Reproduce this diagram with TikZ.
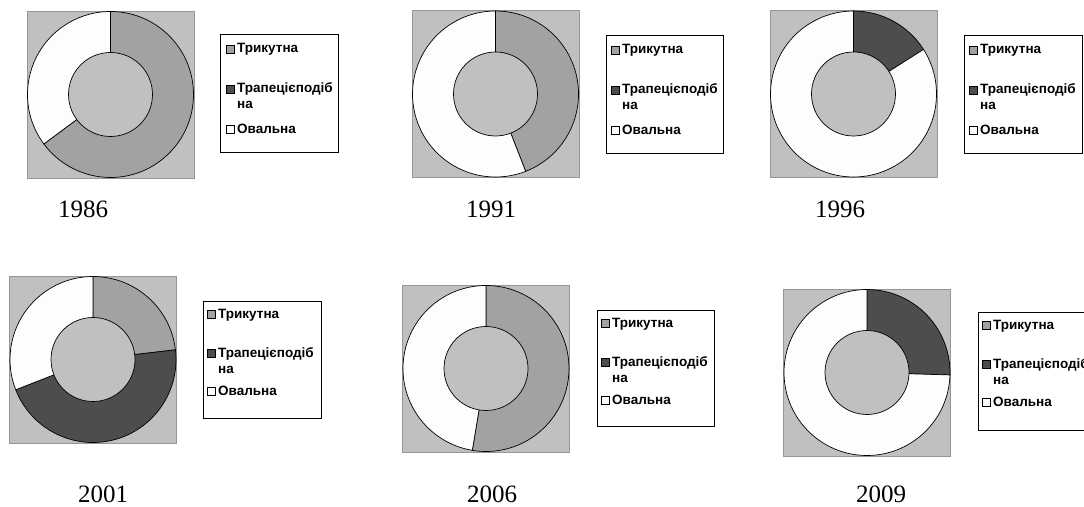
\documentclass[tikz,border=0pt]{standalone}
\usepackage{fontspec}
\setmainfont{Liberation Serif}
\newfontfamily\legfont{Liberation Sans}
\usepackage{tikz}
\usetikzlibrary{positioning}
\definecolor{chartgray}{RGB}{192,192,192}
\definecolor{framegray}{RGB}{150,150,150}
\definecolor{trigray}{RGB}{162,162,162}
\definecolor{trapgray}{RGB}{77,77,77}
\definecolor{ovalwhite}{RGB}{253,253,253}
\newcommand{\legsq}[1]{{\setlength{\fboxsep}{0pt}\setlength{\fboxrule}{0.6pt}%
  \raisebox{0.4pt}{\fcolorbox{black}{#1}{\rule{0pt}{7.4pt}\rule{7.4pt}{0pt}}}}\hspace{2.4pt}}
\tikzset{
  bgsq/.style={rectangle,draw=framegray,line width=0.8pt,fill=chartgray,minimum size=167pt,inner sep=0pt},
  seg/.style={draw=black,line width=0.7pt},
  hole/.style={circle,draw=black,line width=0.7pt,fill=chartgray,minimum size=84pt,inner sep=0pt},
  legbox/.style={rectangle,draw=black,line width=0.8pt,fill=white,anchor=north west,
    minimum width=118pt,minimum height=118pt,inner sep=0pt},
  legtext/.style={anchor=north west,align=left,inner sep=0pt,
    font=\legfont\bfseries\fontsize{13.5}{15.8}\selectfont},
  yearlabel/.style={font=\fontsize{25}{28}\selectfont,inner sep=0pt}
}
\begin{document}
\begin{tikzpicture}[x=1pt,y=1pt]
  \clip (0,0) rectangle (1084,506);
  \fill[white] (0,0) rectangle (1084,506);

  %% 1986
  \node[bgsq] (sqA) at (110.5,411.5) {};
  \draw[seg,fill=trigray] (sqA.center) -- ++(90:83) arc[start angle=90,end angle=-143.4,radius=83] -- cycle;
  \draw[seg,fill=ovalwhite] (sqA.center) -- ++(-143.4:83) arc[start angle=-143.4,end angle=-270,radius=83] -- cycle;
  \node[hole] (holeA) at (sqA) {};
  \node[legbox] (legA) at (220,472) {};
  \node[legtext] (legAtxt) at ([shift={(6,-9.5)}]legA.north west)
      {\legsq{trigray}Трикутна\\[24.2pt]
       \legsq{trapgray}Трапецієподіб\\
       \hphantom{\legsq{trapgray}}на\\[8.5pt]
       \legsq{ovalwhite}Овальна};
  \node[yearlabel] (yrA) at (83,296.5) {1986};

  %% 1991
  \node[bgsq] (sqB) at (495.5,412) {};
  \draw[seg,fill=trigray] (sqB.center) -- ++(90:83) arc[start angle=90,end angle=-68.7,radius=83] -- cycle;
  \draw[seg,fill=ovalwhite] (sqB.center) -- ++(-68.7:83) arc[start angle=-68.7,end angle=-270,radius=83] -- cycle;
  \node[hole] (holeB) at (sqB) {};
  \node[legbox,minimum width=117pt] (legB) at (606,471) {};
  \node[legtext] (legBtxt) at ([shift={(5,-9.5)}]legB.north west)
      {\legsq{trigray}Трикутна\\[24.2pt]
       \legsq{trapgray}Трапецієподіб\\
       \hphantom{\legsq{trapgray}}на\\[8.5pt]
       \legsq{ovalwhite}Овальна};
  \node[yearlabel] (yrB) at (491,296.5) {1991};

  %% 1996
  \node[bgsq] (sqC) at (853.5,412) {};
  \draw[seg,fill=trapgray] (sqC.center) -- ++(90:83) arc[start angle=90,end angle=32.5,radius=83] -- cycle;
  \draw[seg,fill=ovalwhite] (sqC.center) -- ++(32.5:83) arc[start angle=32.5,end angle=-270,radius=83] -- cycle;
  \node[hole] (holeC) at (sqC) {};
  \node[legbox] (legC) at (964,471) {};
  \node[legtext] (legCtxt) at ([shift={(5,-9.5)}]legC.north west)
      {\legsq{trigray}Трикутна\\[24.2pt]
       \legsq{trapgray}Трапецієподіб\\
       \hphantom{\legsq{trapgray}}на\\[8.5pt]
       \legsq{ovalwhite}Овальна};
  \node[yearlabel] (yrC) at (840,296.5) {1996};

  %% 2001
  \node[bgsq] (sqD) at (93,146.5) {};
  \draw[seg,fill=trigray] (sqD.center) -- ++(90:83) arc[start angle=90,end angle=6.7,radius=83] -- cycle;
  \draw[seg,fill=trapgray] (sqD.center) -- ++(6.7:83) arc[start angle=6.7,end angle=-158.6,radius=83] -- cycle;
  \draw[seg,fill=ovalwhite] (sqD.center) -- ++(-158.6:83) arc[start angle=-158.6,end angle=-270,radius=83] -- cycle;
  \node[hole] (holeD) at (sqD) {};
  \node[legbox,minimum height=117pt] (legD) at (203,205) {};
  \node[legtext] (legDtxt) at ([shift={(4,-8)}]legD.north west)
      {\legsq{trigray}Трикутна\\[23pt]
       \legsq{trapgray}Трапецієподіб\\
       \hphantom{\legsq{trapgray}}на\\[7pt]
       \legsq{ovalwhite}Овальна};
  \node[yearlabel] (yrD) at (103,12) {2001};

  %% 2006
  \node[bgsq] (sqE) at (486,137.5) {};
  \draw[seg,fill=trigray] (sqE.center) -- ++(90:83) arc[start angle=90,end angle=-99.5,radius=83] -- cycle;
  \draw[seg,fill=ovalwhite] (sqE.center) -- ++(-99.5:83) arc[start angle=-99.5,end angle=-270,radius=83] -- cycle;
  \node[hole] (holeE) at (sqE) {};
  \node[legbox,minimum width=117pt,minimum height=116pt] (legE) at (597,196) {};
  \node[legtext] (legEtxt) at ([shift={(4,-8)}]legE.north west)
      {\legsq{trigray}Трикутна\\[23pt]
       \legsq{trapgray}Трапецієподіб\\
       \hphantom{\legsq{trapgray}}на\\[7pt]
       \legsq{ovalwhite}Овальна};
  \node[yearlabel] (yrE) at (492,12) {2006};

  %% 2009
  \node[bgsq] (sqF) at (867,133.5) {};
  \draw[seg,fill=trapgray] (sqF.center) -- ++(90:83) arc[start angle=90,end angle=-1.7,radius=83] -- cycle;
  \draw[seg,fill=ovalwhite] (sqF.center) -- ++(-1.7:83) arc[start angle=-1.7,end angle=-270,radius=83] -- cycle;
  \node[hole] (holeF) at (sqF) {};
  \node[legbox] (legF) at (978,194) {};
  \node[legtext] (legFtxt) at ([shift={(4,-8)}]legF.north west)
      {\legsq{trigray}Трикутна\\[23pt]
       \legsq{trapgray}Трапецієподіб\\
       \hphantom{\legsq{trapgray}}на\\[7pt]
       \legsq{ovalwhite}Овальна};
  \node[yearlabel] (yrF) at (881,12) {2009};
\end{tikzpicture}
\end{document}
